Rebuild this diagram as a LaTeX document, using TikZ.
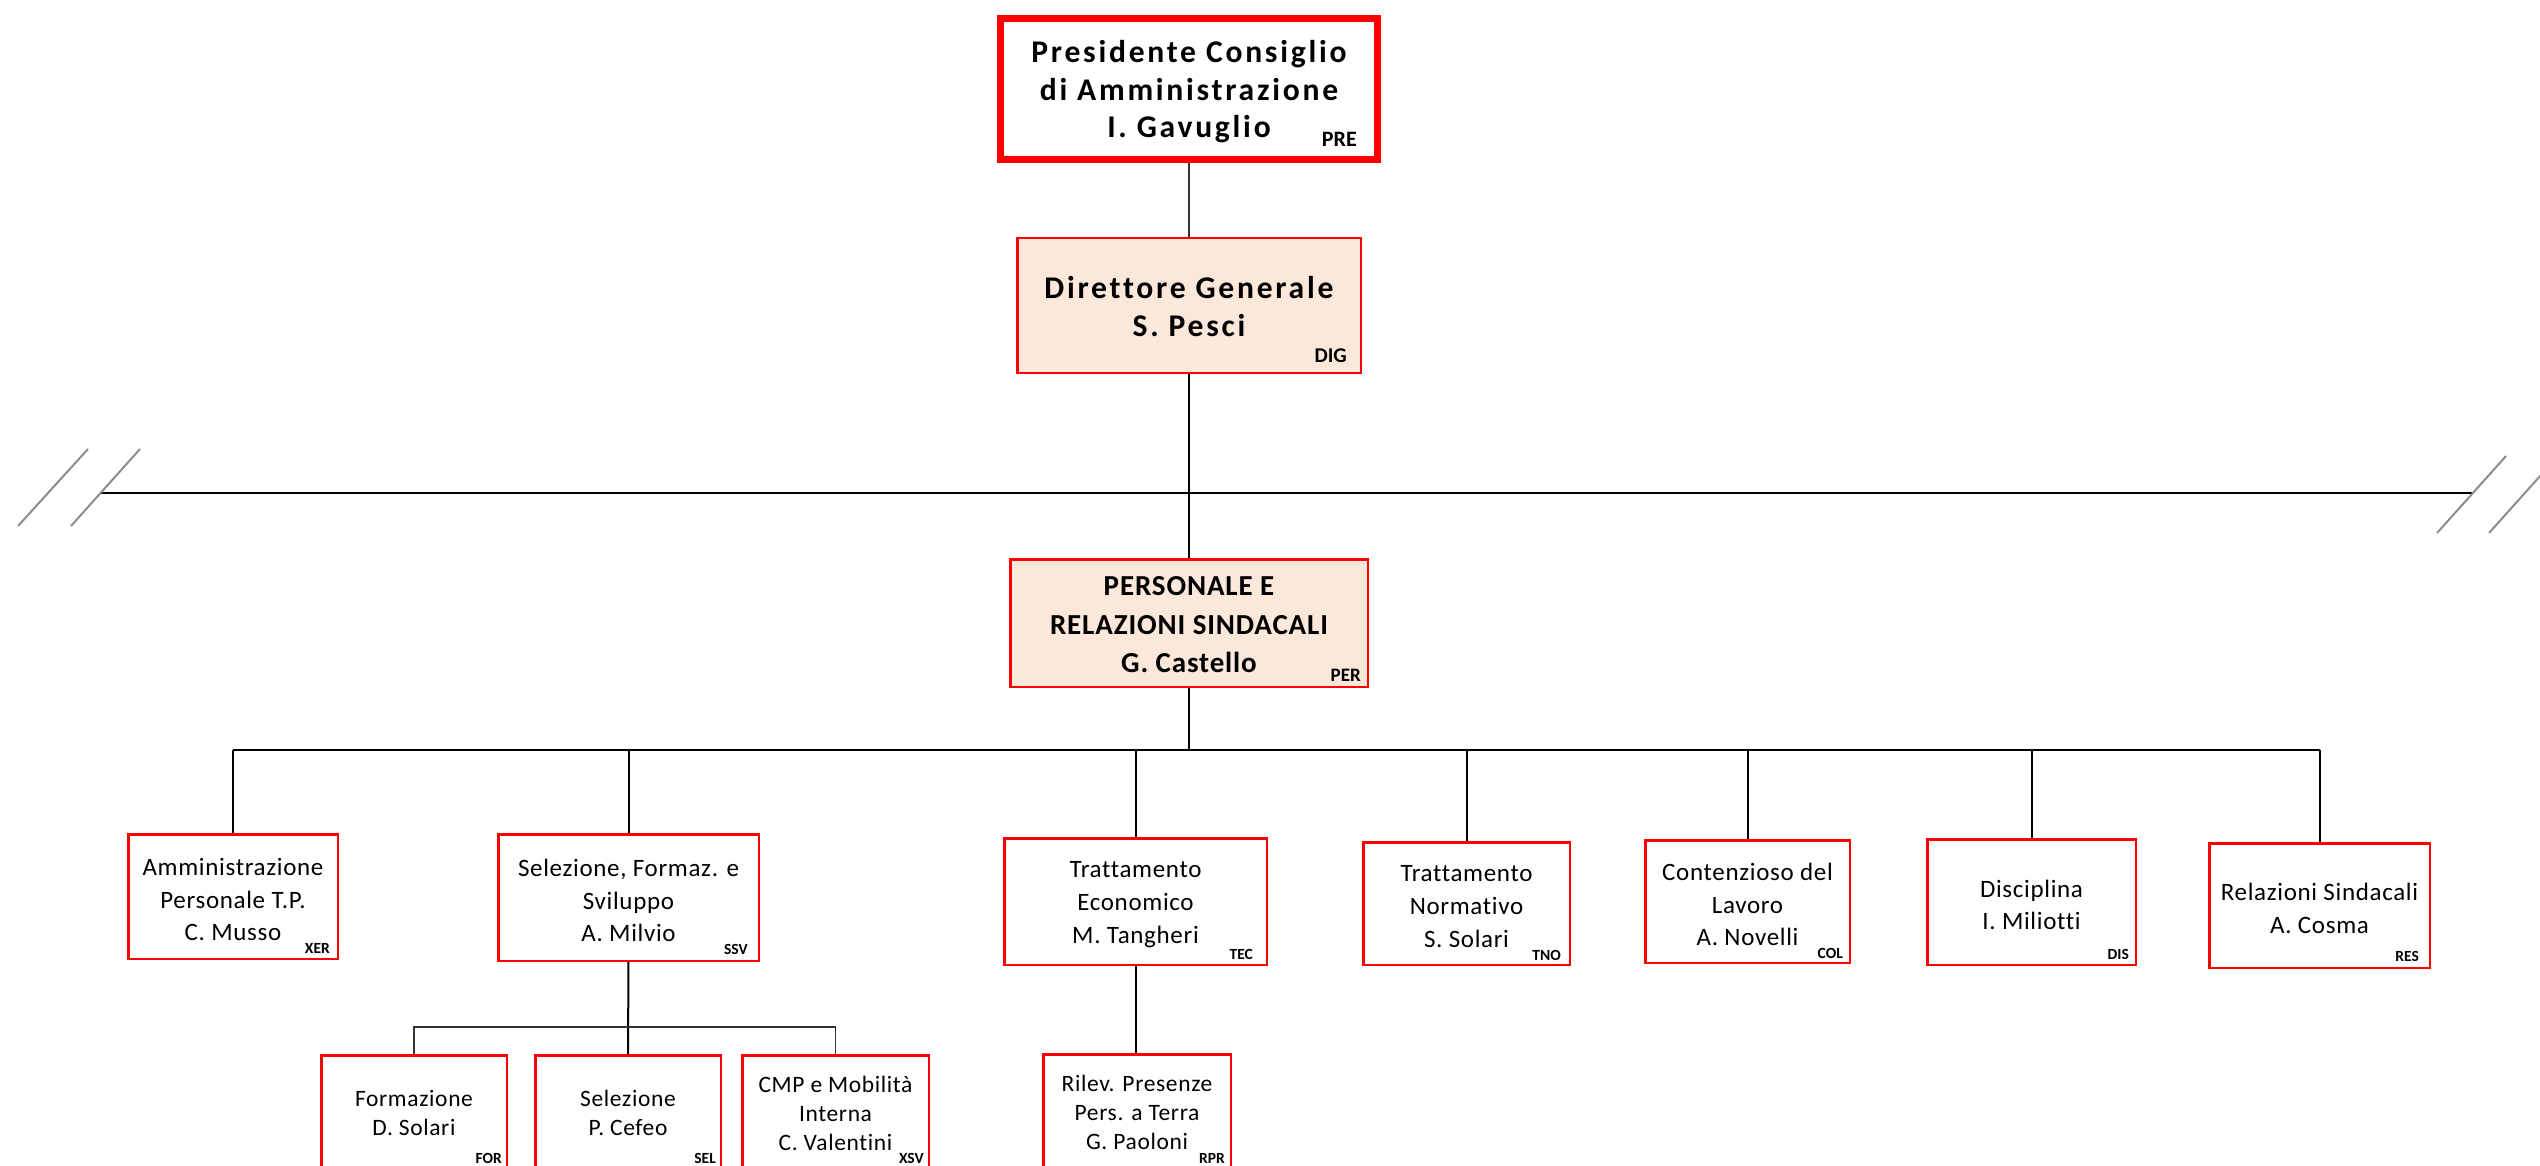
\documentclass[tikz,border=0pt]{standalone}
\usepackage{fontspec}
\setmainfont[Ligatures=NoCommon]{Carlito}
\newfontfamily\wideface[LetterSpace=8.7,Ligatures=NoCommon]{Carlito}
\newfontfamily\perface[LetterSpace=3,Ligatures=NoCommon]{Carlito}
\newfontfamily\boxface[LetterSpace=2.7,Ligatures=NoCommon]{Carlito}
\definecolor{orgred}{HTML}{FF0000}
\definecolor{peach}{HTML}{FCE8DA}
\definecolor{cutgray}{HTML}{8C8C8C}

\tikzset{
    unit/.style={draw=orgred, line width=2.5pt, inner sep=0pt},
    presbox/.style={unit, line width=7pt},
    dirbox/.style={unit, fill=peach},
    unittext/.style={inner sep=0pt, align=center},
    prestext/.style={unittext, yshift=-3pt, font=\wideface\bfseries\fontsize{31.6}{37.5}\selectfont},
    dirtext/.style={unittext, yshift=-1pt, font=\wideface\bfseries\fontsize{31.6}{37.5}\selectfont},
    pertext/.style={unittext, yshift=-2pt, font=\perface\bfseries\fontsize{29}{38.5}\selectfont},
    officetext/.style={unittext, yshift=-3pt, font=\boxface\fontsize{25}{32.7}\selectfont},
    subtext/.style={unittext, yshift=-1pt, font=\boxface\fontsize{23.5}{29}\selectfont},
    codelabel/.style={inner sep=0pt, anchor=base east, font=\bfseries\fontsize{15.5}{15.5}\selectfont},
    link/.style={line width=2pt},
    thinlink/.style={line width=1.2pt, black!80},
    cutline/.style={line width=2.5pt},
    breakmark/.style={line width=2pt, cutgray}
}

\begin{document}
\begin{tikzpicture}[x=1pt,y=-1pt]
    \useasboundingbox (0,0) rectangle (2540,1166);

    % vertice
    \node[presbox, minimum width=377pt, minimum height=141pt] (pre) at (1189,89) {};
    \node[dirbox, minimum width=343.5pt, minimum height=134.5pt] (dig) at (1189,305.5) {};
    \node[dirbox, minimum width=357.5pt, minimum height=127.5pt] (per) at (1189,623) {};
    \node[prestext] (pretext) at (pre) {Presidente Consiglio\\di Amministrazione\\I. Gavuglio};
    \node[dirtext] (digtext) at (dig) {Direttore Generale\\S. Pesci};
    \node[pertext] (pertext) at (per) {PERSONALE E\\RELAZIONI SINDACALI\\G. Castello};

    % uffici
    \node[unit, minimum width=209.5pt, minimum height=124.5pt] (xer) at (233,896.5) {};
    \node[unit, minimum width=260.5pt, minimum height=126.5pt] (ssv) at (628.5,897.5) {};
    \node[unit, minimum width=262.5pt, minimum height=126.5pt] (tec) at (1135.5,901.5) {};
    \node[unit, minimum width=206.5pt, minimum height=122.5pt] (tno) at (1466.5,903.5) {};
    \node[unit, minimum width=204.5pt, minimum height=122.5pt] (col) at (1747.5,901.5) {};
    \node[unit, minimum width=208.5pt, minimum height=125.5pt] (dis) at (2031.5,902) {};
    \node[unit, minimum width=220.5pt, minimum height=124.5pt] (res) at (2319.5,905.5) {};
    \node[officetext] (xertext) at (xer) {Amministrazione\\Personale T.P.\\C. Musso};
    \node[officetext] (ssvtext) at (ssv) {Selezione, Formaz. e\\Sviluppo\\A. Milvio};
    \node[officetext] (tectext) at (tec) {Trattamento\\Economico\\M. Tangheri};
    \node[officetext] (tnotext) at (tno) {Trattamento\\Normativo\\S. Solari};
    \node[officetext] (coltext) at (col) {Contenzioso del\\Lavoro\\A. Novelli};
    \node[officetext] (distext) at (dis) {Disciplina\\I. Miliotti};
    \node[officetext] (restext) at (res) {Relazioni Sindacali\\A. Cosma};

    % sottouffici
    \node[unit, minimum width=185.5pt, minimum height=113.5pt] (for) at (414,1112) {};
    \node[unit, minimum width=185.5pt, minimum height=113.5pt] (sel) at (628,1112) {};
    \node[unit, minimum width=186.5pt, minimum height=113.5pt] (xsv) at (835.5,1112) {};
    \node[unit, minimum width=187.5pt, minimum height=114.5pt] (rpr) at (1137,1111.5) {};
    \node[subtext] (fortext) at (for) {Formazione\\D. Solari};
    \node[subtext] (seltext) at (sel) {Selezione\\P. Cefeo};
    \node[subtext] (xsvtext) at (xsv) {CMP e Mobilità\\Interna\\C. Valentini};
    \node[subtext] (rprtext) at (rpr) {Rilev. Presenze\\Pers. a Terra\\G. Paoloni};

    % sigle
    \node[codelabel, font=\bfseries\fontsize{22}{22}\selectfont] (precode) at ([shift={(-24,-16)}]pre.south east) {PRE};
    \node[codelabel, font=\bfseries\fontsize{21}{21}\selectfont] (digcode) at ([shift={(-15,-12)}]dig.south east) {DIG};
    \node[codelabel, font=\bfseries\fontsize{19}{19}\selectfont] (percode) at ([shift={(-8,-7)}]per.south east) {PER};
    \node[codelabel] (xercode) at ([shift={(-9,-7)}]xer.south east) {XER};
    \node[codelabel] (ssvcode) at ([shift={(-12,-8)}]ssv.south east) {SSV};
    \node[codelabel] (teccode) at ([shift={(-15,-7)}]tec.south east) {TEC};
    \node[codelabel] (tnocode) at ([shift={(-10,-6)}]tno.south east) {TNO};
    \node[codelabel] (colcode) at ([shift={(-8,-6)}]col.south east) {COL};
    \node[codelabel] (discode) at ([shift={(-8,-7)}]dis.south east) {DIS};
    \node[codelabel] (rescode) at ([shift={(-12,-8)}]res.south east) {RES};
    \node[codelabel] (forcode) at ([shift={(-6,-7)}]for.south east) {FOR};
    \node[codelabel] (selcode) at ([shift={(-6,-7)}]sel.south east) {SEL};
    \node[codelabel] (xsvcode) at ([shift={(-6,-7)}]xsv.south east) {XSV};
    \node[codelabel] (rprcode) at ([shift={(-7,-7)}]rpr.south east) {RPR};

    % linea di separazione
    \coordinate (cutL) at (100,493);
    \coordinate (cutR) at (2473,493);
    \draw[cutline] (cutL) -- (cutR);
    \draw[breakmark] ([shift={(-82,33)}]cutL) -- ++(70,-77);
    \draw[breakmark] ([shift={(-29,33)}]cutL) -- ++(69,-77);
    \draw[breakmark] ([shift={(-36,40)}]cutR) -- ++(69,-77);
    \draw[breakmark] ([shift={(16,40)}]cutR) -- ++(69,-77);

    % collegamenti
    \coordinate (bus) at (1189,750);
    \coordinate (subbus) at (628,1027);
    \draw[thinlink] (pre) -- (dig);
    \draw[link] (dig) -- (per);
    \draw[link] (per) -- (bus);
    \draw[link] (xer.north |- bus) -- (res.north |- bus);
    \foreach \u in {xer,ssv,tec,tno,col,dis,res}
        \draw[link] (\u.north |- bus) -- (\u.north);
    \draw[link] (ssv) -- (sel);
    \draw[thinlink] (for.north) |- (subbus) -| (xsv.north);
    \draw[link] (tec.south) -- (tec.south |- rpr.north);
    \end{tikzpicture}
\end{document}
